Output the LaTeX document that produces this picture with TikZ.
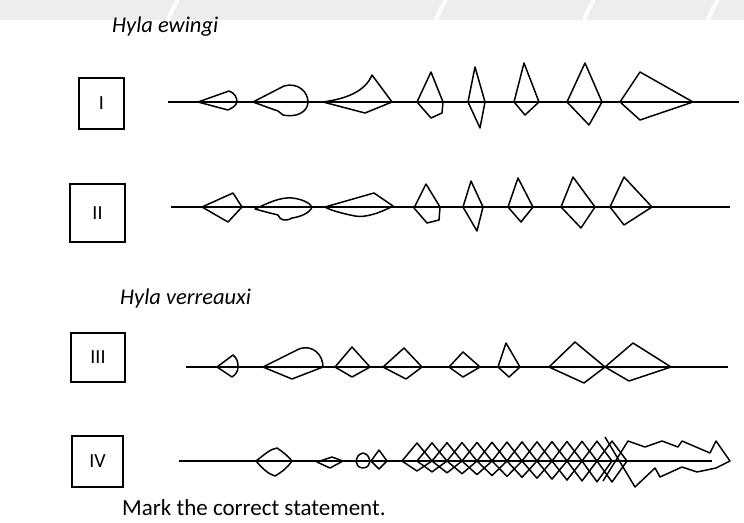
\documentclass[tikz,border=0pt]{standalone}
\usepackage{fontspec}
\setmainfont{Carlito}

\begin{document}
\begin{tikzpicture}[
  x=1pt, y=-1pt,
  rowbox/.style={rectangle, draw, line width=1.6pt, inner sep=0pt, font=\fontsize{20}{24}\selectfont},
  species/.style={anchor=base west, inner sep=0pt, font=\fontsize{22.5}{27}\selectfont\itshape},
  question/.style={anchor=base west, inner sep=0pt, font=\fontsize{23}{27}\selectfont},
  trace/.style={draw, line width=1.5pt, line join=round},
  axis/.style={draw, line width=1.6pt},
]
  \useasboundingbox (0,0) rectangle (744,522);
  % faint band of the scan at the top
  \fill[black!7] (0,0) rectangle (744,20);
  \draw[white, line width=4pt] (168,20) .. controls (172,10) .. (178,0);
  \draw[white, line width=4pt] (436,20) .. controls (440,10) .. (446,0);
  \draw[white, line width=4pt] (584,20) .. controls (588,10) .. (594,0);
  \draw[white, line width=4pt] (708,20) .. controls (712,10) .. (718,0);

  % labels
  \node[species] (ewingi) at (112,32) {Hyla ewingi};
  \node[species] (verreauxi) at (120,304) {Hyla verreauxi};
  \node[question] (task) at (122,515) {Mark the correct statement.};

  \node[rowbox, minimum width=45pt, minimum height=51pt] (boxI) at (101.5,103.5) {I};
  \node[rowbox, minimum width=55pt, minimum height=58pt] (boxII) at (97.5,213) {II};
  \node[rowbox, minimum width=54pt, minimum height=49pt] (boxIII) at (98,357.5) {III};
  \node[rowbox, minimum width=51pt, minimum height=51pt] (boxIV) at (97.5,461.5) {IV};

  % time axes
  \coordinate (startI) at (168,102);   \coordinate (endI) at (739,102);
  \coordinate (startII) at (171,207);  \coordinate (endII) at (730,207);
  \coordinate (startIII) at (186,367); \coordinate (endIII) at (728,367);
  \coordinate (startIV) at (179,461);  \coordinate (endIV) at (712,461);
  \draw[axis] (startI) -- (endI);
  \draw[axis] (startII) -- (endII);
  \draw[axis] (startIII) -- (endIII);
  \draw[axis] (startIV) -- (endIV);

  % row I
  \draw[trace] (198,102) -- (229,91) .. controls (235,93) and (237,98) .. (237,102)
    .. controls (236,106) and (232,108) .. (228,110) -- cycle;
  \draw[trace] (253,102) -- (284,86) .. controls (298,82) and (308,92) .. (308,102)
    .. controls (308,112) and (296,118) .. (283,115) .. controls (280,113) and (278,110) .. (275,110) -- cycle;
  \draw[trace] (323,102) .. controls (345,99) and (365,92) .. (372,75) -- (392,102) -- (365,113) -- cycle;
  \draw[trace] (417,102) -- (431,72) -- (443,102) -- (442,113) -- (431,118) -- cycle;
  \foreach \l/\tx/\ty/\r/\bx/\by in {468/475/67/485/480/128, 514/524/63/539/525/115,
      567/585/63/602/589/125, 620/640/72/693/640/120}
    \draw[trace] (\l,102) -- (\tx,\ty) -- (\r,102) -- (\bx,\by) -- cycle;

  % row II
  \draw[trace] (202,207) -- (233,193) -- (242,207) -- (228,222) -- cycle;
  \draw[trace] (255,209) .. controls (268,203) and (280,197) .. (292,198)
    .. controls (302,199) and (310,203) .. (312,207) .. controls (310,213) and (300,217) .. (292,218)
    .. controls (285,222) and (280,220) .. (278,215) .. controls (270,213) and (262,211) .. (255,209) -- cycle;
  \draw[trace] (325,207) -- (374,193) -- (393,206) .. controls (380,213) and (365,218) .. (355,216)
    .. controls (340,213) and (330,210) .. (325,207) -- cycle;
  \draw[trace] (414,208) -- (426,184) -- (440,207) -- (439,220) -- (427,223) -- cycle;
  \foreach \l/\tx/\ty/\r/\bx/\by in {463/471/181/483/477/231, 508/518/178/533/521/222,
      561/573/177/595/581/228, 610/624/177/652/624/225}
    \draw[trace] (\l,207) -- (\tx,\ty) -- (\r,207) -- (\bx,\by) -- cycle;

  % row III
  \draw[trace] (217,367) -- (233,355) .. controls (237,358) and (238,362) .. (238,367)
    .. controls (238,372) and (235,375) .. (232,377) -- cycle;
  \draw[trace] (263,367) -- (299,349) .. controls (313,344) and (323,355) .. (323,367) -- (292,379) -- cycle;
  \foreach \l/\tx/\ty/\r/\bx/\by in {335/352/347/370/352/377, 383/404/348/422/406/379,
      449/463/352/480/463/377, 498/506/343/520/509/377,
      549/575/342/605/584/383, 605/633/343/671/629/381}
    \draw[trace] (\l,367) -- (\tx,\ty) -- (\r,367) -- (\bx,\by) -- cycle;

  % row IV
  \draw[trace] (256,461) .. controls (264,455) and (270,449) .. (277,448)
    .. controls (283,452) and (288,456) .. (292,461) .. controls (288,467) and (282,472) .. (275,476)
    .. controls (268,474) and (262,468) .. (256,461) -- cycle;
  \draw[trace] (317,462) -- (332,457) -- (343,461) -- (330,468) -- cycle;
  \draw[trace] (356,461) .. controls (358,455) .. (363,453) .. controls (368,455) .. (370,461)
    .. controls (368,467) .. (363,468) .. controls (358,467) .. (356,461) -- cycle;
  \draw[trace] (371,461) -- (379,450) -- (387,461) -- (379,469) -- cycle;
  \foreach \i [evaluate=\i as \xl using 402+15*\i,
               evaluate=\i as \up using 18+0.15*\i,
               evaluate=\i as \dn using {min(10+0.9*\i,21)}] in {0,...,13}
    \draw[trace] (\xl,461) -- (\xl+15,461-\up) -- (\xl+30,461) -- (\xl+15,461+\dn) -- cycle;
  \draw[trace] (603,481) -- (628,441) -- (645,447) -- (662,441) -- (678,447) -- (682,441)
    -- (710,453) -- (716,441) -- (730,461) -- (716,468) -- (697,472) -- (682,467)
    -- (660,477) -- (655,468) -- (635,487) -- (605,437);
\end{tikzpicture}
\end{document}
